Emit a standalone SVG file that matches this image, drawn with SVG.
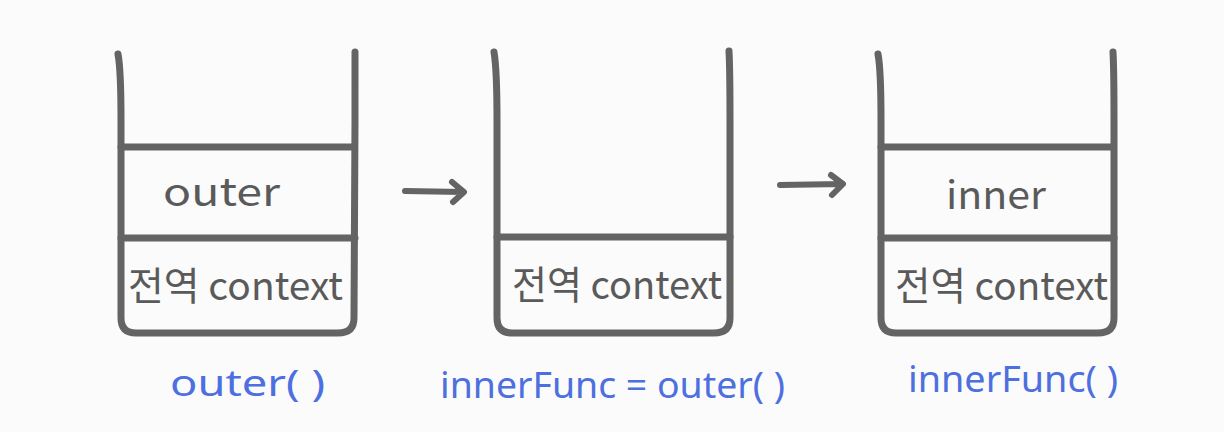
<svg xmlns="http://www.w3.org/2000/svg" width="1224" height="432" viewBox="0 0 1224 432">
<defs>
<style>
.box{fill:none;stroke:#646464;stroke-width:7;stroke-linecap:round;stroke-linejoin:round}
.conn{fill:none;stroke:#646464;stroke-width:6;stroke-linecap:round;stroke-linejoin:round}
.t{font-family:"Noto Sans CJK KR","Noto Sans",sans-serif;fill:#5a5a5a;font-size:39px}
.lbl{font-family:"Noto Sans","Noto Sans CJK KR",sans-serif;fill:#4d6fe0;font-size:37px}
</style>
</defs>
<rect width="1224" height="432" fill="#fbfbfb"/>
<g id="stack1">
<path class="box" d="M118 54 Q121 70 121 120 L121 318 Q121 333 136 333 L338 333 Q354 333 354 318 L355 120 Q355 70 355 52"/>
<line class="box" x1="121" y1="147" x2="354" y2="147"/>
<line class="box" x1="121" y1="238" x2="355" y2="238"/>
<text class="t" x="163" y="206" textLength="117" lengthAdjust="spacingAndGlyphs">outer</text>
<text class="t" x="128" y="300" textLength="215" lengthAdjust="spacingAndGlyphs">전역 context</text>
</g>
<g id="stack2">
<path class="box" d="M494 52 Q497 70 497 120 L497 318 Q497 333 512 333 L714 333 Q730 333 730 318 L730 120 Q730 70 729 51"/>
<line class="box" x1="497" y1="237" x2="730" y2="237"/>
<text class="t" x="512" y="299" textLength="210" lengthAdjust="spacingAndGlyphs">전역 context</text>
</g>
<g id="stack3">
<path class="box" d="M878 54 Q881 70 881 120 L881 318 Q881 333 896 333 L1098 333 Q1114 333 1114 318 L1114 120 Q1114 70 1113 52"/>
<line class="box" x1="881" y1="147" x2="1113" y2="147"/>
<line class="box" x1="881" y1="238" x2="1114" y2="238"/>
<text class="t" x="946" y="209" textLength="100" lengthAdjust="spacingAndGlyphs">inner</text>
<text class="t" x="895" y="300" textLength="213" lengthAdjust="spacingAndGlyphs">전역 context</text>
</g>
<g id="connectors">
<path class="conn" d="M405 191 L463 192 M452 182 L464 192 L453 202"/>
<path class="conn" d="M780 185 L842 184 M831 175 L843 184 L832 195"/>
</g>
<g id="labels">
<text class="lbl" x="170" y="396" textLength="155" lengthAdjust="spacingAndGlyphs">outer( )</text>
<text class="lbl" x="440" y="398" textLength="345" lengthAdjust="spacingAndGlyphs">innerFunc = outer( )</text>
<text class="lbl" x="908" y="392" textLength="210" lengthAdjust="spacingAndGlyphs">innerFunc( )</text>
</g>
</svg>
